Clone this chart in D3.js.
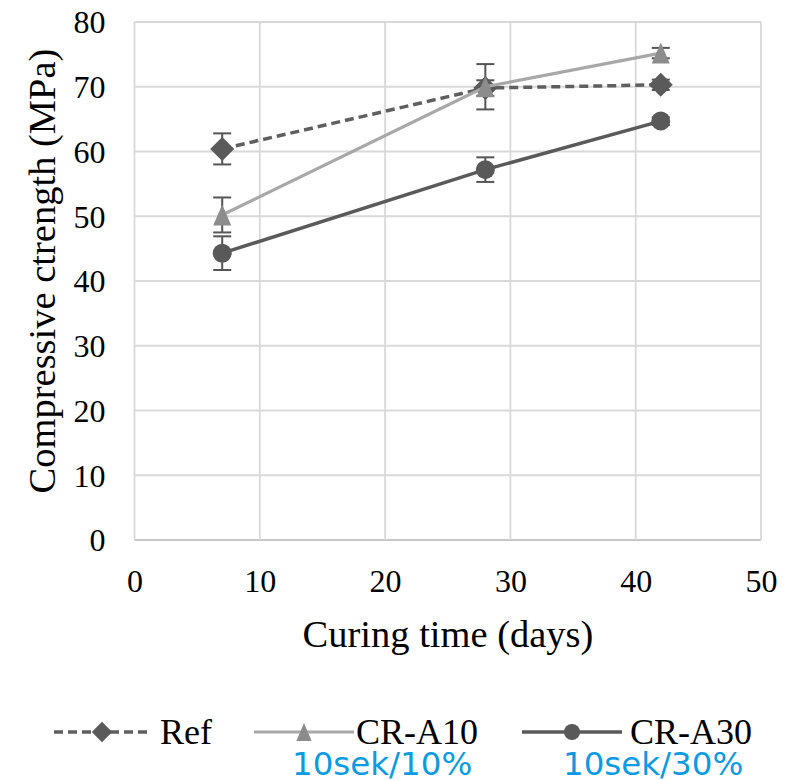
<!DOCTYPE html>
<html>
<head>
<meta charset="utf-8">
<script src="https://cdn.jsdelivr.net/npm/d3@7/dist/d3.min.js"></script>
<style>
  html, body { margin: 0; padding: 0; background: #ffffff; }
  svg { display: block; }
</style>
</head>
<body>
<svg id="chart" width="785" height="780"></svg>
<script>
// Curing time (days) at which the specimens were tested
const days = [7, 28, 42];

// Mean compressive strength (MPa) per mix
const refValues   = [60.4, 69.8, 70.3];
const crA10Values = [50.2, 70.0, 75.2];
const crA30Values = [44.3, 57.2, 64.7];

// Standard deviations (MPa) shown as error bars
const refErrors   = [2.4, 1.2, 0.8];
const crA10Errors = [2.7, 3.5, 0.8];
const crA30Errors = [2.6, 1.9, 0.6];

// Series names and the mixing notes printed under the legend
const seriesNames = ["Ref", "CR-A10", "CR-A30"];
const seriesNotes = ["", "10sek/10%", "10sek/30%"];

// Axis ticks
const xTicks = [0, 10, 20, 30, 40, 50];
const yTicks = [0, 10, 20, 30, 40, 50, 60, 70, 80];

const svg = d3.select("#chart");
const W = 785, H = 780;
const margin = { left: 134.5, right: 24, top: 22, bottom: 240 };
const plotW = W - margin.left - margin.right;
const plotH = H - margin.top - margin.bottom;

const x = d3.scaleLinear().domain([0, 50]).range([margin.left, margin.left + plotW]);
const y = d3.scaleLinear().domain([0, 80]).range([margin.top + plotH, margin.top]);

const serif = "'Liberation Serif', 'Times New Roman', serif";
const gridColor = "#d9d9d9";

// Marker paths
const diamondPath = (s) => `M0,${-s}L${s},0L0,${s}L${-s},0Z`;
const trianglePath = (w, h) => `M0,${-h / 2}L${w / 2},${h / 2}L${-w / 2},${h / 2}Z`;
const circlePath = (r) => d3.arc()({ innerRadius: 0, outerRadius: r, startAngle: 0, endAngle: 2 * Math.PI });

const series = [
  { name: seriesNames[0], values: refValues, errors: refErrors, line: "#5f5f5f", marker: "#5a5a5a",
    dash: "9,5", width: 3.5, shape: diamondPath(12) },
  { name: seriesNames[1], values: crA10Values, errors: crA10Errors, line: "#a8a8a8", marker: "#8c8c8c",
    dash: null, width: 3.2, shape: trianglePath(18, 21) },
  { name: seriesNames[2], values: crA30Values, errors: crA30Errors, line: "#5a5a5a", marker: "#595959",
    dash: null, width: 3.5, shape: circlePath(9.5) }
];

// Grid
const grid = svg.append("g");
grid.selectAll("line.h").data(yTicks).join("line")
  .attr("x1", x(0)).attr("x2", x(50))
  .attr("y1", d => y(d)).attr("y2", d => y(d))
  .attr("stroke", d => d === 0 ? "#c8c8c8" : gridColor).attr("stroke-width", 1.8);
grid.selectAll("line.v").data(xTicks).join("line")
  .attr("x1", d => x(d)).attr("x2", d => x(d))
  .attr("y1", y(0)).attr("y2", y(80))
  .attr("stroke", gridColor).attr("stroke-width", 1.8);

// Axes (labels only)
const xAxis = d3.axisBottom(x).tickValues(xTicks).tickSize(0).tickPadding(0);
const gx = svg.append("g").attr("transform", `translate(0,${y(0)})`).call(xAxis);
gx.select(".domain").remove();
gx.selectAll("text")
  .attr("dy", null).attr("y", 52)
  .attr("font-family", serif).attr("font-size", 32).attr("fill", "#000");

const yAxis = d3.axisLeft(y).tickValues(yTicks).tickSize(0).tickPadding(0);
const gy = svg.append("g").attr("transform", `translate(${margin.left},0)`).call(yAxis);
gy.select(".domain").remove();
gy.selectAll("text")
  .attr("x", -29).attr("dy", "0.34em")
  .attr("font-family", serif).attr("font-size", 32).attr("fill", "#000");

// Axis titles
svg.append("text")
  .attr("x", 448).attr("y", 647)
  .attr("text-anchor", "middle")
  .attr("font-family", serif).attr("font-size", 38.5).attr("fill", "#000")
  .text("Curing time (days)");

svg.append("text")
  .attr("transform", `translate(55,${(y(0) + y(80)) / 2 - 10}) rotate(-90)`)
  .attr("text-anchor", "middle")
  .attr("font-family", serif).attr("font-size", 38.5).attr("fill", "#000")
  .text("Compressive ctrength (MPa)");

// Series lines, error bars and markers
const lineGen = d3.line().x(d => x(d[0])).y(d => y(d[1]));
const capHalf = 9;

series.forEach(s => {
  const pts = days.map((d, i) => [d, s.values[i], s.errors[i]]);
  const g = svg.append("g");
  g.append("path")
    .attr("d", lineGen(pts))
    .attr("fill", "none").attr("stroke", s.line)
    .attr("stroke-width", s.width)
    .attr("stroke-dasharray", s.dash);

  const eb = g.selectAll("g.err").data(pts).join("g").attr("stroke", "#555").attr("stroke-width", 2);
  eb.append("line")
    .attr("x1", d => x(d[0])).attr("x2", d => x(d[0]))
    .attr("y1", d => y(d[1] - d[2])).attr("y2", d => y(d[1] + d[2]));
  eb.append("line")
    .attr("x1", d => x(d[0]) - capHalf).attr("x2", d => x(d[0]) + capHalf)
    .attr("y1", d => y(d[1] + d[2])).attr("y2", d => y(d[1] + d[2]));
  eb.append("line")
    .attr("x1", d => x(d[0]) - capHalf).attr("x2", d => x(d[0]) + capHalf)
    .attr("y1", d => y(d[1] - d[2])).attr("y2", d => y(d[1] - d[2]));

  g.selectAll("path.mk").data(pts).join("path")
    .attr("d", s.shape)
    .attr("transform", d => `translate(${x(d[0])},${y(d[1])})`)
    .attr("fill", s.marker);
});

// Legend
const legendY = 732;
const legendItems = [
  { x0: 54,  x1: 150, tx: 160, noteX: 292 },
  { x0: 254, x1: 354, tx: 356, noteX: 292 },
  { x0: 522, x1: 622, tx: 630, noteX: 563 }
];
series.forEach((s, i) => {
  const it = legendItems[i];
  const g = svg.append("g");
  g.append("line")
    .attr("x1", it.x0).attr("x2", it.x1).attr("y1", legendY).attr("y2", legendY)
    .attr("stroke", s.line).attr("stroke-width", s.width).attr("stroke-dasharray", s.dash);
  g.append("path")
    .attr("d", s.shape)
    .attr("transform", `translate(${(it.x0 + it.x1) / 2},${legendY}) scale(0.85)`)
    .attr("fill", s.marker);
  g.append("text")
    .attr("x", it.tx).attr("y", legendY + 12)
    .attr("font-family", serif).attr("font-size", 36).attr("fill", "#000")
    .text(s.name);
  if (seriesNotes[i]) {
    g.append("text")
      .attr("x", it.noteX).attr("y", 775)
      .attr("font-family", "'DejaVu Sans', Verdana, sans-serif")
      .attr("font-size", 32.5).attr("fill", "#0a9be3")
      .text(seriesNotes[i]);
  }
});
</script>
</body>
</html>
